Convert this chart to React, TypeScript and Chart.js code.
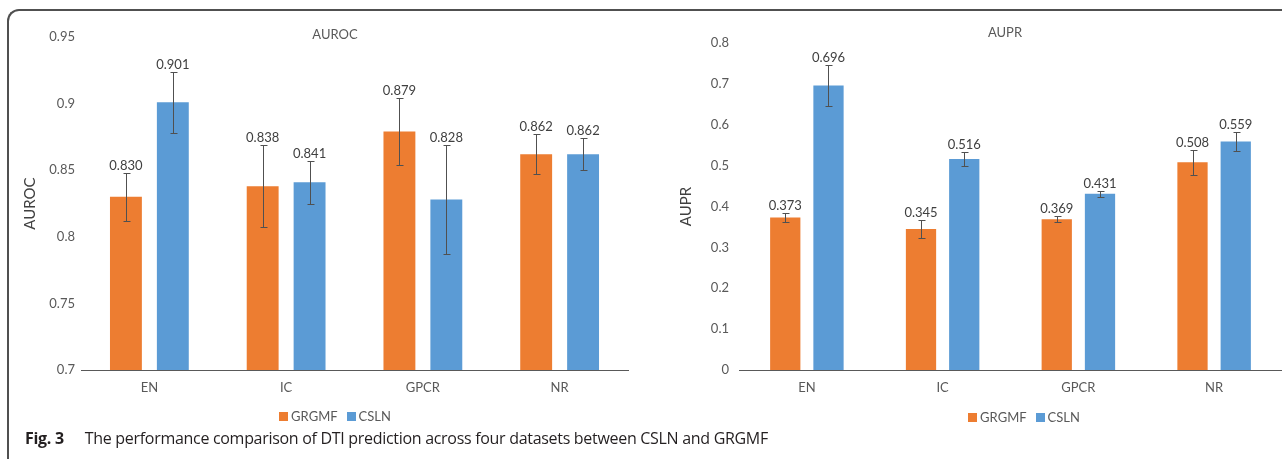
import React, { useEffect, useRef } from 'react';
import { Chart, registerables } from 'chart.js';

Chart.register(...registerables);

// ---------- data ----------
const categories = ['EN', 'IC', 'GPCR', 'NR'];
const seriesNames = ['GRGMF', 'CSLN'];
const seriesColors = ['#ED7D31', '#5B9BD5'];

const aurocGRGMF = [0.830, 0.838, 0.879, 0.862];
const aurocCSLN = [0.901, 0.841, 0.828, 0.862];
const aurocErrGRGMF = [0.018, 0.031, 0.025, 0.015];
const aurocErrCSLN = [0.023, 0.016, 0.041, 0.012];
const aurocTicks = [0.7, 0.75, 0.8, 0.85, 0.9, 0.95];

const auprGRGMF = [0.373, 0.345, 0.369, 0.508];
const auprCSLN = [0.696, 0.516, 0.431, 0.559];
const auprErrGRGMF = [0.012, 0.023, 0.007, 0.030];
const auprErrCSLN = [0.051, 0.018, 0.008, 0.024];
const auprTicks = [0, 0.1, 0.2, 0.3, 0.4, 0.5, 0.6, 0.7, 0.8];

const captionBold = 'Fig. 3';
const captionText = 'The performance comparison of DTI prediction across four datasets between CSLN and GRGMF';

// ---------- styles ----------
const FONT = 'Lato, "Open Sans", sans-serif';
const CAPTION_FONT = '"Open Sans", Lato, sans-serif';
const TEXT = '#595959';

type PanelSpec = {
  title: string;
  yTitle: string;
  values: number[][];
  errors: number[][];
  ticks: number[];
  canvas: { left: number; top: number; width: number; height: number };
  pad: { left: number; right: number; top: number; bottom: number };
  yWidth: number;
  yTickPad: number;
  xHeight: number;
  barPct: number;
  catPct: number;
  titlePos: [number, number];
  legendPos: [number, number];
};

const panels: PanelSpec[] = [
  {
    title: 'AUROC',
    yTitle: 'AUROC',
    values: [aurocGRGMF, aurocCSLN],
    errors: [aurocErrGRGMF, aurocErrCSLN],
    ticks: aurocTicks,
    canvas: { left: 10, top: 12, width: 650, height: 420 },
    pad: { left: 7, right: 32, top: 25, bottom: 34 },
    yWidth: 64,
    yTickPad: 6,
    xHeight: 28,
    barPct: 0.68,
    catPct: 0.686,
    titlePos: [325, 23],
    legendPos: [325, 404],
  },
  {
    title: 'AUPR',
    yTitle: 'AUPR',
    values: [auprGRGMF, auprCSLN],
    errors: [auprErrGRGMF, auprErrCSLN],
    ticks: auprTicks,
    canvas: { left: 668, top: 12, width: 614, height: 420 },
    pad: { left: 5, right: 0, top: 31, bottom: 34 },
    yWidth: 66,
    yTickPad: 10,
    xHeight: 28,
    barPct: 0.7,
    catPct: 0.637,
    titlePos: [337, 21],
    legendPos: [356, 405],
  },
];

const decorPlugin = {
  id: 'decor',
  afterDatasetsDraw(chart: any, _args: any, opts: any) {
    const ctx = chart.ctx as CanvasRenderingContext2D;
    const y = chart.scales.y;
    ctx.save();
    // error bars + value labels
    chart.data.datasets.forEach((ds: any, di: number) => {
      const meta = chart.getDatasetMeta(di);
      meta.data.forEach((bar: any, i: number) => {
        const v = ds.data[i] as number;
        const e = ds.errors[i] as number;
        const yt = Math.round(y.getPixelForValue(v + e)) + 0.5;
        const yb = Math.round(y.getPixelForValue(v - e)) + 0.5;
        const x = Math.round(bar.x) + 0.5;
        ctx.strokeStyle = '#505050';
        ctx.lineWidth = 1;
        ctx.beginPath();
        ctx.moveTo(x, yt);
        ctx.lineTo(x, yb);
        ctx.moveTo(x - 3, yt);
        ctx.lineTo(x + 4, yt);
        ctx.moveTo(x - 3, yb);
        ctx.lineTo(x + 4, yb);
        ctx.stroke();
        ctx.fillStyle = '#404040';
        ctx.font = `13px ${FONT}`;
        ctx.textAlign = 'center';
        ctx.textBaseline = 'alphabetic';
        ctx.fillText(v.toFixed(3), bar.x, yt - 4);
      });
    });
    // title
    ctx.fillStyle = TEXT;
    ctx.font = `13px ${FONT}`;
    ctx.textAlign = 'center';
    ctx.textBaseline = 'middle';
    ctx.fillText(opts.title, opts.titlePos[0], opts.titlePos[1]);
    // legend (from datasets)
    ctx.font = `13px ${FONT}`;
    const box = 9, gapText = 3, gapItem = 9;
    const widths = chart.data.datasets.map((ds: any) => box + gapText + ctx.measureText(ds.label).width);
    const total = widths.reduce((a: number, b: number) => a + b, 0) + gapItem * (widths.length - 1);
    let lx = opts.legendPos[0] - total / 2;
    const ly = opts.legendPos[1];
    chart.data.datasets.forEach((ds: any, di: number) => {
      ctx.fillStyle = ds.backgroundColor;
      ctx.fillRect(Math.round(lx), Math.round(ly - box / 2), box, box);
      ctx.fillStyle = TEXT;
      ctx.textAlign = 'left';
      ctx.textBaseline = 'middle';
      ctx.fillText(ds.label, lx + box + gapText, ly + 1);
      lx += widths[di] + gapItem;
    });
    ctx.restore();
  },
};

function buildConfig(p: PanelSpec): any {
  return {
    type: 'bar',
    data: {
      labels: categories,
      datasets: seriesNames.map((name, si) => ({
        label: name,
        data: p.values[si],
        errors: p.errors[si],
        backgroundColor: seriesColors[si],
        borderWidth: 0,
        barPercentage: p.barPct,
        categoryPercentage: p.catPct,
      })),
    },
    options: {
      responsive: false,
      animation: false,
      devicePixelRatio: 1,
      layout: { padding: p.pad },
      plugins: {
        legend: { display: false },
        title: { display: false },
        tooltip: { enabled: false },
        decor: { title: p.title, titlePos: p.titlePos, legendPos: p.legendPos },
      },
      scales: {
        x: {
          grid: { display: false, drawTicks: false },
          border: { display: true, color: '#595959', width: 1 },
          ticks: { color: TEXT, font: { family: FONT, size: 13 }, padding: 10, maxRotation: 0 },
          afterFit: (s: any) => {
            s.height = p.xHeight;
          },
        },
        y: {
          min: p.ticks[0],
          max: p.ticks[p.ticks.length - 1],
          grid: { display: false, drawTicks: false },
          border: { display: false },
          ticks: {
            color: TEXT,
            font: { family: FONT, size: 13 },
            padding: p.yTickPad,
            callback: (v: number) => String(Number(v.toFixed(4))),
          },
          afterBuildTicks: (s: any) => {
            s.ticks = p.ticks.map((v) => ({ value: v }));
          },
          title: {
            display: true,
            text: p.yTitle,
            color: '#404040',
            font: { family: FONT, size: 15 },
            padding: { top: 4, bottom: 4 },
          },
          afterFit: (s: any) => {
            s.width = p.yWidth;
          },
        },
      },
    },
    plugins: [decorPlugin],
  };
}

function Panel({ spec }: { spec: PanelSpec }) {
  const ref = useRef<HTMLCanvasElement | null>(null);
  useEffect(() => {
    if (!ref.current) return;
    const chart = new Chart(ref.current, buildConfig(spec));
    return () => chart.destroy();
  }, [spec]);
  return (
    <canvas
      ref={ref}
      width={spec.canvas.width}
      height={spec.canvas.height}
      style={{
        position: 'absolute',
        left: spec.canvas.left,
        top: spec.canvas.top,
        width: spec.canvas.width,
        height: spec.canvas.height,
      }}
    />
  );
}

export default function App() {
  return (
    <div
      style={{
        position: 'fixed',
        left: 0,
        top: 0,
        width: 1282,
        height: 459,
        overflow: 'hidden',
        background: '#ffffff',
      }}
    >
      <div
        style={{
          position: 'absolute',
          left: 7,
          top: 9,
          width: 1400,
          height: 600,
          borderTop: '2px solid #505050',
          borderLeft: '2px solid #505050',
          borderTopLeftRadius: 12,
          boxSizing: 'border-box',
        }}
      />
      {panels.map((p) => (
        <Panel key={p.title} spec={p} />
      ))}
      <div
        style={{
          position: 'absolute',
          left: 25,
          top: 428,
          fontFamily: CAPTION_FONT,
          fontSize: 16,
          letterSpacing: '-0.3px',
          lineHeight: '20px',
          color: '#231f20',
          whiteSpace: 'nowrap',
        }}
      >
        <span style={{ fontWeight: 700 }}>{captionBold}</span>
        <span style={{ marginLeft: 21 }}>{captionText}</span>
      </div>
    </div>
  );
}
